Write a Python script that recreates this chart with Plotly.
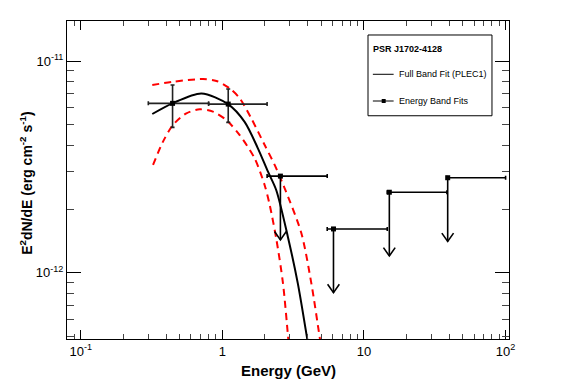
import plotly.graph_objects as go

# ---------------- data ----------------
# Energy-band fits: detected bands
det_energy = [0.445, 1.10]
det_e_lo = [0.30, 0.80]
det_e_hi = [0.80, 2.07]
det_flux = [6.31e-12, 6.26e-12]
det_flux_lo = [4.86e-12, 5.13e-12]
det_flux_hi = [7.70e-12, 7.38e-12]

# Energy-band fits: upper limits
ul_energy = [2.57, 6.09, 15.1, 39.0]
ul_e_lo = [2.07, 5.50, 14.6, 38.5]
ul_e_hi = [5.50, 14.6, 38.5, 100.0]
ul_flux = [2.86e-12, 1.61e-12, 2.40e-12, 2.81e-12]

# Full band fit (PLEC1) and its 1-sigma band
fit_energy = [0.32, 0.444, 0.711, 1.096, 1.436, 1.782, 2.10, 2.40, 2.90, 3.41, 3.95, 4.2]
fit_flux = [5.62e-12, 6.31e-12, 7.03e-12, 6.26e-12, 5.16e-12, 3.87e-12, 3.00e-12,
            2.46e-12, 1.48e-12, 8.91e-13, 4.99e-13, 3.87e-13]

up_energy = [0.32, 0.448, 0.730, 0.908, 1.125, 1.325, 1.60, 1.99, 2.34, 2.75, 3.61, 4.25, 4.86, 5.16]
up_flux = [7.70e-12, 7.98e-12, 8.22e-12, 8.05e-12, 7.43e-12, 6.67e-12, 5.36e-12, 4.01e-12,
           3.23e-12, 2.51e-12, 1.54e-12, 8.91e-13, 4.99e-13, 3.87e-13]

lo_energy = [0.324, 0.381, 0.448, 0.557, 0.692, 0.859, 1.067, 1.325, 1.69, 1.99, 2.16, 2.41,
             2.68, 2.91, 3.01]
lo_flux = [3.23e-12, 4.16e-12, 4.99e-12, 5.66e-12, 5.91e-12, 5.77e-12, 5.26e-12, 4.47e-12,
           3.47e-12, 2.59e-12, 2.09e-12, 1.43e-12, 8.91e-13, 4.99e-13, 3.87e-13]

x_tickvals = [0.1, 1, 10, 100]
x_ticktext = ["10<sup>-1</sup>", "1", "10", "10<sup>2</sup>"]
y_tickvals = [1e-12, 1e-11]
y_ticktext = ["10<sup>-12</sup>", "10<sup>-11</sup>"]
minor_digits = [2, 3, 4, 5, 6, 7, 8, 9]
x_minor = [d * 10.0 ** p for p in (-2, -1, 0, 1, 2) for d in minor_digits]
y_minor = [d * 10.0 ** p for p in (-13, -12, -11) for d in minor_digits]

# ---------------- style constants ----------------
UL_DROP = 2.0      # arrow tip at flux / UL_DROP
HEAD_X = 1.10      # arrow head half-width (multiplicative, log axis)
HEAD_Y = 1.095     # arrow head height (multiplicative, log axis)
FONT = "Liberation Sans, Arial, Helvetica, sans-serif"

fig = go.Figure()

# 1-sigma band (red dashed)
for ex, fy in ((lo_energy, lo_flux), (up_energy, up_flux)):
    fig.add_trace(go.Scatter(x=ex, y=fy, mode="lines", showlegend=False,
                             line=dict(color="#ff0000", width=2, dash="7px,5px",
                                       shape="spline", smoothing=0.8),
                             hoverinfo="skip"))

# full band fit (black)
fig.add_trace(go.Scatter(x=fit_energy, y=fit_flux, mode="lines", showlegend=False,
                         line=dict(color="black", width=2, shape="spline", smoothing=0.8),
                         hoverinfo="skip"))

# upper-limit arrows
ax, ay = [], []
for e, f in zip(ul_energy, ul_flux):
    tip = f / UL_DROP
    ax += [e, e, None, e / HEAD_X, e, e * HEAD_X, None]
    ay += [f, tip, None, tip * HEAD_Y, tip, tip * HEAD_Y, None]
fig.add_trace(go.Scatter(x=ax, y=ay, mode="lines", showlegend=False,
                         line=dict(color="black", width=1.6), hoverinfo="skip"))

# upper-limit points with energy bands
fig.add_trace(go.Scatter(
    x=ul_energy, y=ul_flux, mode="markers", showlegend=False,
    marker=dict(symbol="square", size=5, color="black"),
    error_x=dict(type="data", symmetric=False,
                 array=[h - e for h, e in zip(ul_e_hi, ul_energy)],
                 arrayminus=[e - l for e, l in zip(ul_energy, ul_e_lo)],
                 color="black", thickness=1.6, width=2),
))

# detected points
fig.add_trace(go.Scatter(
    x=det_energy, y=det_flux, mode="markers", showlegend=False,
    marker=dict(symbol="square", size=5, color="black"),
    error_x=dict(type="data", symmetric=False,
                 array=[h - e for h, e in zip(det_e_hi, det_energy)],
                 arrayminus=[e - l for e, l in zip(det_energy, det_e_lo)],
                 color="#222222", thickness=1.6, width=2),
    error_y=dict(type="data", symmetric=False,
                 array=[h - f for h, f in zip(det_flux_hi, det_flux)],
                 arrayminus=[f - l for f, l in zip(det_flux, det_flux_lo)],
                 color="#222222", thickness=1.6, width=2),
))

axis_common = dict(showgrid=False, zeroline=False, showline=True, linecolor="black",
                   linewidth=1, mirror="allticks", ticks="inside", tickcolor="black",
                   automargin=False,
                   tickfont=dict(family=FONT, size=13, color="black"))

fig.update_xaxes(type="log", range=[-1.097, 2.024], tickmode="array",
                 tickvals=x_tickvals, ticktext=x_ticktext, ticklen=9,
                 minor=dict(ticks="inside", ticklen=5, tickcolor="#444444", showgrid=False,
                            tickmode="array", tickvals=x_minor),
                 **axis_common)
fig.update_yaxes(type="log", range=[-12.313, -10.811], tickmode="array",
                 tickvals=y_tickvals, ticktext=y_ticktext, ticklen=14,
                 minor=dict(ticks="inside", ticklen=7, tickcolor="#444444", showgrid=False,
                            tickmode="array", tickvals=y_minor),
                 **axis_common)

# legend box drawn by hand
shapes = [
    dict(type="rect", xref="paper", yref="paper", x0=0.681, x1=0.9615, y0=0.702, y1=0.956,
         line=dict(color="black", width=1), fillcolor="white"),
    dict(type="line", xref="paper", yref="paper", x0=0.692, x1=0.739, y0=0.8324, y1=0.8324,
         line=dict(color="black", width=1)),
    dict(type="line", xref="paper", yref="paper", x0=0.692, x1=0.739, y0=0.7484, y1=0.7484,
         line=dict(color="black", width=1)),
    dict(type="rect", xref="paper", yref="paper", x0=0.7120, x1=0.7210, y0=0.7421, y1=0.7547,
         line=dict(color="black", width=0), fillcolor="black"),
]

annotations = [
    dict(text="<b>PSR J1702-4128</b>", xref="paper", yref="paper", x=0.687, y=0.912,
         xanchor="left", yanchor="middle", showarrow=False,
         font=dict(family=FONT, size=9, color="black")),
    dict(text="Full Band Fit (PLEC1)", xref="paper", yref="paper", x=0.7475, y=0.8324,
         xanchor="left", yanchor="middle", showarrow=False,
         font=dict(family=FONT, size=9, color="black")),
    dict(text="Energy Band Fits", xref="paper", yref="paper", x=0.7475, y=0.7484,
         xanchor="left", yanchor="middle", showarrow=False,
         font=dict(family=FONT, size=9, color="black")),
    dict(text="<b>Energy (GeV)</b>", xref="paper", yref="paper", x=0.5, y=-0.0975,
         xanchor="center", yanchor="middle", showarrow=False,
         font=dict(family=FONT, size=15, color="black")),
    dict(text="<b>E<sup>2</sup>dN/dE (erg cm<sup>-2</sup> s<sup>-1</sup>)</b>",
         xref="paper", yref="paper", x=-0.0912, y=0.49, textangle=-90,
         xanchor="center", yanchor="middle", showarrow=False,
         font=dict(family=FONT, size=14, color="black")),
]

fig.update_layout(
    width=567, height=386,
    margin=dict(l=67, r=58, t=21, b=47, pad=0),
    paper_bgcolor="white", plot_bgcolor="white",
    showlegend=False, shapes=shapes, annotations=annotations,
    font=dict(family=FONT, color="black"),
)

fig.write_html("out.html",
               config={"displayModeBar": False},
               post_script="document.body.style.margin='0';"
                           "document.body.style.overflow='hidden';")
